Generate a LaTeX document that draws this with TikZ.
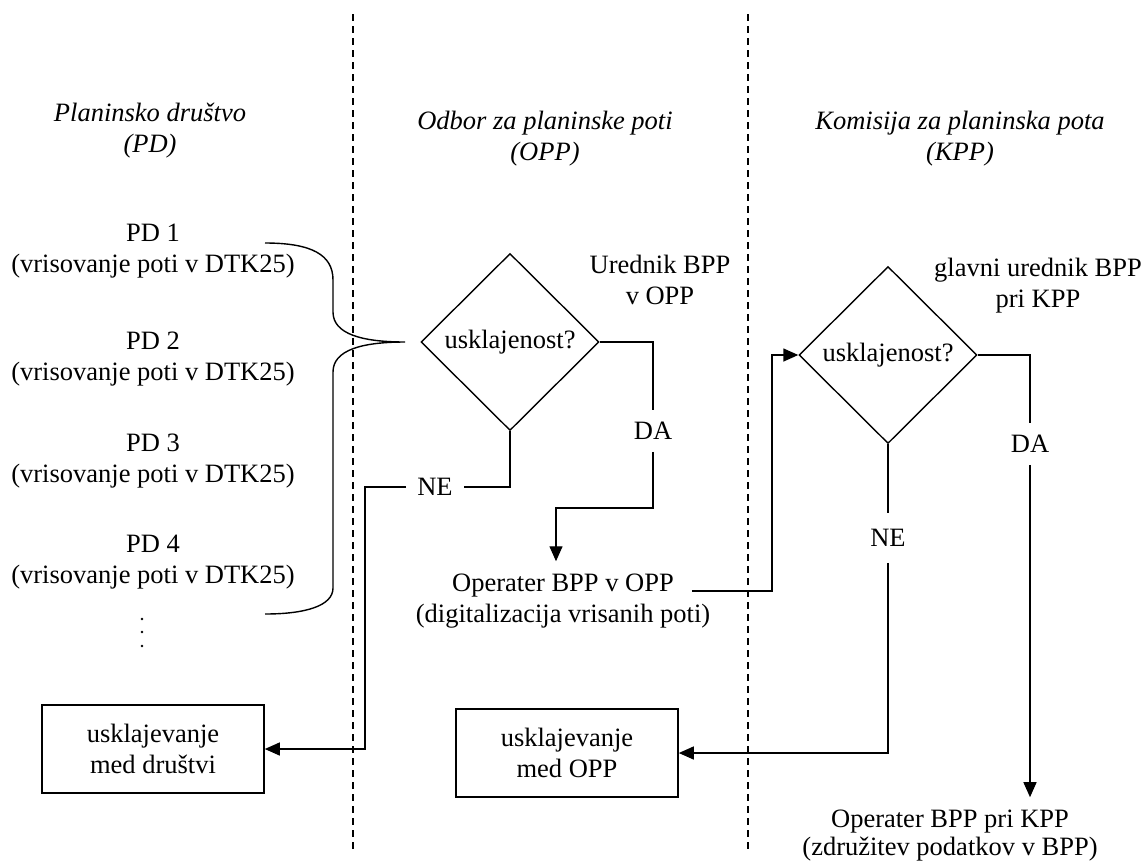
\documentclass[tikz,border=0pt]{standalone}
\usepackage{fontspec}
\setmainfont{Liberation Serif}
\usetikzlibrary{shapes.geometric,arrows.meta,calc}
\begin{document}
\begin{tikzpicture}[x=1pt,y=-1pt,
  font=\fontsize{26.5}{31}\selectfont,
  lane/.style={line width=1.1pt, dash pattern=on 7pt off 5pt},
  conn/.style={line width=1.4pt},
  arr/.style={conn, -{Triangle[length=15pt,width=13pt]}},
  dec/.style={diamond, draw, line width=1.4pt, minimum width=178pt, minimum height=177pt, inner sep=0pt},
  procbox/.style={draw, line width=1.6pt, minimum width=222pt, minimum height=88pt, align=center},
  txt/.style={align=center, inner sep=0pt},
  hdr/.style={txt, font=\fontsize{26.5}{31}\selectfont\itshape},
  lab/.style={inner xsep=11pt, inner ysep=12pt}]
\useasboundingbox (0,0) rectangle (1148,863);

% swimlane separators
\draw[lane] (353,14) -- (353,850);
\draw[lane] (748,14) -- (748,850);

% headers
\node[hdr] (hPD) at (150,131) {Planinsko društvo\\(PD)};
\node[hdr] (hOPP) at (545,139) {Odbor za planinske poti\\(OPP)};
\node[hdr] (hKPP) at (960,139) {Komisija za planinska pota\\(KPP)};

% PD column
\node[txt] (pd1) at (153,251) {PD 1\\(vrisovanje poti v DTK25)};
\node[txt] (pd2) at (153,359) {PD 2\\(vrisovanje poti v DTK25)};
\node[txt] (pd3) at (153,461) {PD 3\\(vrisovanje poti v DTK25)};
\node[txt] (pd4) at (153,562) {PD 4\\(vrisovanje poti v DTK25)};
\fill (142,619) circle (1.3pt);
\fill (142,632) circle (1.3pt);
\fill (142,646) circle (1.3pt);

% brace
\draw[conn] (265,243) .. controls (312,243) and (333,255) .. (333,280) -- (333,312)
  .. controls (333,334) and (362,342) .. (405,342)
  .. controls (362,342) and (333,350) .. (333,372) -- (333,588)
  .. controls (333,606) and (305,614) .. (265,614);

% decisions
\node[dec] (d1) at (510,342) {usklajenost?};
\node[dec] (d2) at (888,355) {usklajenost?};
\node[txt] (ured) at (660,280) {Urednik BPP\\v OPP};
\node[txt] (glav) at (1038,286) {glavni urednik BPP\\pri KPP};

% boxes
\node[procbox] (b1) at (153,749) {usklajevanje\\med društvi};
\node[procbox] (b2) at (567,753) {usklajevanje\\med OPP};

% operators
\node[anchor=base, inner xsep=18pt, inner ysep=12pt] (opA) at (563,591) {Operater BPP v OPP};
\node[anchor=base, inner sep=0pt] (opB) at (563,622) {(digitalizacija vrisanih poti)};
\node[txt, inner ysep=13pt, font=\fontsize{26.5}{28}\selectfont] (opK) at (950,836) {Operater BPP pri KPP\\(združitev podatkov v BPP)};

% labels
\node[lab] (da1) at (653,431) {DA};
\node[lab] (ne1) at (435,487) {NE};
\node[lab] (da2) at (1030,444) {DA};
\node[lab, inner ysep=16pt] (ne2) at (888,538) {NE};

% connectors
\draw[conn] (d1.east) -| (da1.north);
\coordinate (c2) at (653,508);
\draw[arr] (da1.south) -- (c2) -| ([xshift=-7pt]opA.north);
\draw[conn] (d1.south) |- (ne1.east);
\coordinate (c1) at (365,487);
\draw[arr] (ne1.west) -- (c1) |- (b1.east);
\coordinate (s1) at ([yshift=-6pt]opA.east);
\coordinate (c4) at (772,592);
\draw[arr] (s1) -- (s1 -| c4) |- (d2.west);
\draw[conn] (d2.east) -| (da2.north);
\draw[arr] (da2.south) -- (da2 |- opK.north);
\draw[conn] (d2.south) -- (ne2.north);
\draw[arr] (ne2.south) |- (b2.east);
\end{tikzpicture}
\end{document}
